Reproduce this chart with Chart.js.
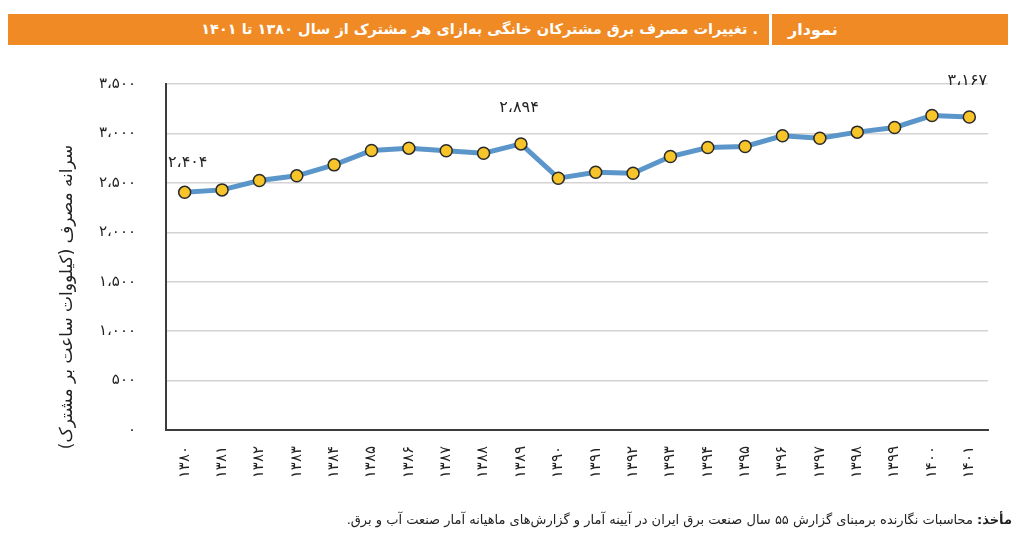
<!DOCTYPE html>
<html lang="fa">
<head>
<meta charset="utf-8">
<script src="https://cdn.jsdelivr.net/npm/chart.js@4.4.1/dist/chart.umd.min.js"></script>
<style>
  html, body { margin: 0; padding: 0; background: #fff; }
  body { width: 1024px; height: 552px; position: relative; overflow: hidden; font-family: "DejaVu Sans", "Noto Sans", sans-serif; }
  #bar { position: absolute; left: 8px; top: 14px; width: 1000px; height: 31px; background: #f08a24; z-index: 2; }
  #sep { position: absolute; left: 761px; top: 0; width: 3px; height: 31px; background: #fff; }
  #lbl { position: absolute; left: 780px; top: 0; height: 31px; line-height: 31px; color: #fff; font-size: 16px; font-weight: bold; direction: rtl; }
  #ttl { position: absolute; right: 250px; top: 0; height: 31px; line-height: 31px; color: #fff; font-size: 14.5px; font-weight: bold; direction: rtl; white-space: nowrap; letter-spacing: -0.6px; }
  #src { position: absolute; right: 12px; top: 512px; font-size: 13px; color: #222; direction: rtl; white-space: nowrap; letter-spacing: -0.2px; z-index: 2; }
  #src b { font-weight: bold; }
  #wrap { position: absolute; left: 0; top: 0; width: 1024px; height: 552px; }
</style>
</head>
<body>
<div id="bar"><div id="ttl">. تغییرات مصرف برق مشترکان خانگی به‌ازای هر مشترک از سال ۱۳۸۰ تا ۱۴۰۱</div><div id="sep"></div><div id="lbl">نمودار</div></div>
<div id="wrap"><canvas id="c" width="1024" height="552"></canvas></div>
<div id="src"><b>مأخذ:</b> محاسبات نگارنده برمبنای گزارش ۵۵ سال صنعت برق ایران در آیینه آمار و گزارش‌های ماهیانه آمار صنعت آب و برق.</div>
<script>
// Categories (years, Persian calendar)
const years = ['۱۳۸۰','۱۳۸۱','۱۳۸۲','۱۳۸۳','۱۳۸۴','۱۳۸۵','۱۳۸۶','۱۳۸۷','۱۳۸۸','۱۳۸۹','۱۳۹۰','۱۳۹۱','۱۳۹۲','۱۳۹۳','۱۳۹۴','۱۳۹۵','۱۳۹۶','۱۳۹۷','۱۳۹۸','۱۳۹۹','۱۴۰۰','۱۴۰۱'];
// Per-subscriber consumption (kWh)
const consumption = [2404, 2429, 2523, 2571, 2682, 2827, 2851, 2824, 2800, 2894, 2547, 2608, 2598, 2766, 2857, 2868, 2976, 2952, 3013, 3060, 3181, 3167];
// Annotated points (index -> label)
const annotatedIdx = [0, 9, 21];
const annotatedText = ['۲،۴۰۴', '۲،۸۹۴', '۳،۱۶۷'];
// Y tick labels
const yTickValues = [0, 500, 1000, 1500, 2000, 2500, 3000, 3500];
const yTickLabels = ['۰', '۵۰۰', '۱،۰۰۰', '۱،۵۰۰', '۲،۰۰۰', '۲،۵۰۰', '۳،۰۰۰', '۳،۵۰۰'];
const yTitle = 'سرانه مصرف (کیلووات ساعت بر مشترک)';

const FONT = '"DejaVu Sans", "Noto Sans", sans-serif';

const labelPlugin = {
  id: 'pointLabels',
  afterDatasetsDraw(chart) {
    const ctx = chart.ctx;
    const meta = chart.getDatasetMeta(0);
    ctx.save();
    ctx.fillStyle = '#222';
    ctx.font = '16px ' + FONT;
    ctx.textAlign = 'center';
    ctx.textBaseline = 'middle';
    annotatedIdx.forEach((idx, k) => {
      const p = meta.data[idx];
      const off = idx === 0 ? 30 : 36;
      ctx.fillText(annotatedText[k], p.x + (idx === 0 ? 3 : -2), p.y - off);
    });
    // rotated y-axis title
    const ya = chart.scales.y;
    ctx.translate(68, (ya.top + ya.bottom) / 2 + 40);
    ctx.rotate(-Math.PI / 2);
    ctx.font = '17px ' + FONT;
    ctx.fillText(yTitle, 0, 0);
    ctx.restore();
  }
};

new Chart(document.getElementById('c'), {
  type: 'line',
  data: {
    labels: years,
    datasets: [{
      data: consumption,
      borderColor: '#5b96cb',
      borderWidth: 5,
      pointRadius: 6,
      pointHoverRadius: 6,
      pointBackgroundColor: '#f7c52a',
      pointBorderColor: '#2a2a2a',
      pointBorderWidth: 1.5,
      tension: 0,
      clip: false
    }]
  },
  options: {
    responsive: false,
    animation: false,
    devicePixelRatio: 1,
    layout: { padding: { left: 0, top: 84, right: 36, bottom: 0 } },
    plugins: { legend: { display: false }, tooltip: { enabled: false } },
    scales: {
      x: {
        offset: true,
        grid: { display: false, drawTicks: false },
        border: { display: true, color: '#3c3c3c', width: 2 },
        ticks: {
          color: '#222', font: { family: FONT, size: 15 },
          minRotation: 90, maxRotation: 90, padding: 16, autoSkip: false
        },
        afterFit(scale) { scale.height = 122; }
      },
      y: {
        min: 0, max: 3500,
        afterBuildTicks(scale) { scale.ticks = yTickValues.map(v => ({ value: v })); },
        grid: {
          color: ctx => (ctx.tick && ctx.tick.value === 0) ? 'rgba(0,0,0,0)' : '#d3d3d3',
          lineWidth: 1.5,
          drawTicks: false
        },
        border: { display: true, color: '#3c3c3c', width: 2 },
        ticks: {
          color: '#222', font: { family: FONT, size: 15 }, padding: 30,
          callback: (v, i) => yTickLabels[yTickValues.indexOf(v)]
        },
        afterFit(scale) { scale.width = 166; }
      }
    }
  },
  plugins: [labelPlugin]
});
</script>
</body>
</html>
